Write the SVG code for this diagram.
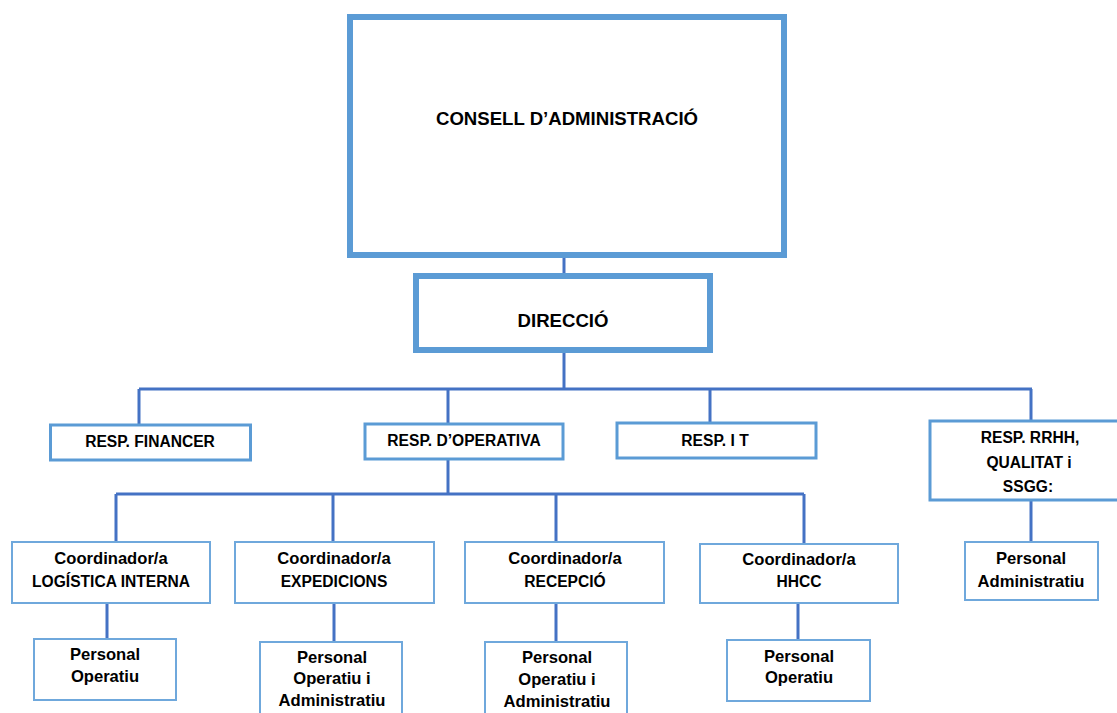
<svg xmlns="http://www.w3.org/2000/svg" width="1117" height="713" viewBox="0 0 1117 713">
<style>
  .thick { fill: #ffffff; stroke: #5B9BD5; stroke-width: 6; }
  .mid { fill: #ffffff; stroke: #5B9BD5; stroke-width: 3; }
  .thin { fill: #ffffff; stroke: #6FA8DC; stroke-width: 2; }
  .conn { stroke: #4472C4; stroke-width: 3; fill: none; }
  text { font-family: "Liberation Sans", Arial, sans-serif; font-weight: bold; fill: #000000; text-anchor: middle; }
  .big { font-size: 18.6px; }
  .sm { font-size: 15.6px; }
  .lc { font-size: 16.6px; }
</style>
<rect width="1117" height="713" fill="#ffffff"/>
<g id="connectors">
  <path class="conn" d="M564 258V274"/>
  <path class="conn" d="M564 352V389"/>
  <path class="conn" d="M139 389H1032"/>
  <path class="conn" d="M139 389V424M448 389V423M710 389V422M1031 389V420"/>
  <path class="conn" d="M448 459V494"/>
  <path class="conn" d="M116 494H804"/>
  <path class="conn" d="M116 494V541M333 494V541M556 494V541M804 494V543"/>
  <path class="conn" d="M107 603V638M334 603V641M556 603V641M798 603V639M1031 501V541"/>
</g>
<g id="consell">
  <rect class="thick" x="350" y="17" width="434" height="238"/>
  <text class="big" x="567" y="125">CONSELL D’ADMINISTRACIÓ</text>
</g>
<g id="direccio">
  <rect class="thick" x="416" y="276" width="294" height="74"/>
  <text class="big" x="563" y="327">DIRECCIÓ</text>
</g>
<g id="resp-financer">
  <rect class="mid" x="50.5" y="425" width="200" height="35"/>
  <text class="sm" x="150" y="447">RESP. FINANCER</text>
</g>
<g id="resp-operativa">
  <rect class="mid" x="365" y="424" width="198" height="35"/>
  <text class="sm" x="464" y="446">RESP. D’OPERATIVA</text>
</g>
<g id="resp-it">
  <rect class="mid" x="617" y="423" width="199" height="35"/>
  <text class="sm" x="715" y="446">RESP. I T</text>
</g>
<g id="resp-rrhh">
  <rect class="mid" x="930" y="421" width="200" height="79"/>
  <text class="sm" x="1030" y="443">RESP. RRHH,</text>
  <text class="sm" x="1029" y="468">QUALITAT i</text>
  <text class="sm" x="1028" y="492">SSGG:</text>
</g>
<g id="coord-logistica">
  <rect class="thin" x="12" y="542" width="198" height="61"/>
  <text class="lc" x="111" y="564">Coordinador/a</text>
  <text class="sm" x="111" y="587">LOGÍSTICA INTERNA</text>
</g>
<g id="coord-expedicions">
  <rect class="thin" x="235" y="542" width="199" height="61"/>
  <text class="lc" x="334" y="564">Coordinador/a</text>
  <text class="sm" x="334" y="587">EXPEDICIONS</text>
</g>
<g id="coord-recepcio">
  <rect class="thin" x="465" y="542" width="199" height="61"/>
  <text class="lc" x="565" y="564">Coordinador/a</text>
  <text class="sm" x="565" y="587">RECEPCIÓ</text>
</g>
<g id="coord-hhcc">
  <rect class="thin" x="700" y="544" width="198" height="59"/>
  <text class="lc" x="799" y="565">Coordinador/a</text>
  <text class="sm" x="799" y="587">HHCC</text>
</g>
<g id="personal-1">
  <rect class="thin" x="34" y="639" width="142" height="61"/>
  <text class="lc" x="105" y="660">Personal</text>
  <text class="lc" x="105" y="682">Operatiu</text>
</g>
<g id="personal-2">
  <rect class="thin" x="260" y="642" width="142" height="80"/>
  <text class="lc" x="332" y="663">Personal</text>
  <text class="lc" x="332" y="684">Operatiu i</text>
  <text class="lc" x="332" y="706">Administratiu</text>
</g>
<g id="personal-3">
  <rect class="thin" x="485" y="642" width="142" height="80"/>
  <text class="lc" x="557" y="663">Personal</text>
  <text class="lc" x="557" y="685">Operatiu i</text>
  <text class="lc" x="557" y="707">Administratiu</text>
</g>
<g id="personal-4">
  <rect class="thin" x="727" y="640" width="143" height="61"/>
  <text class="lc" x="799" y="662">Personal</text>
  <text class="lc" x="799" y="683">Operatiu</text>
</g>
<g id="personal-5">
  <rect class="thin" x="965" y="542" width="133" height="58"/>
  <text class="lc" x="1031" y="564">Personal</text>
  <text class="lc" x="1031" y="587">Administratiu</text>
</g>
</svg>
